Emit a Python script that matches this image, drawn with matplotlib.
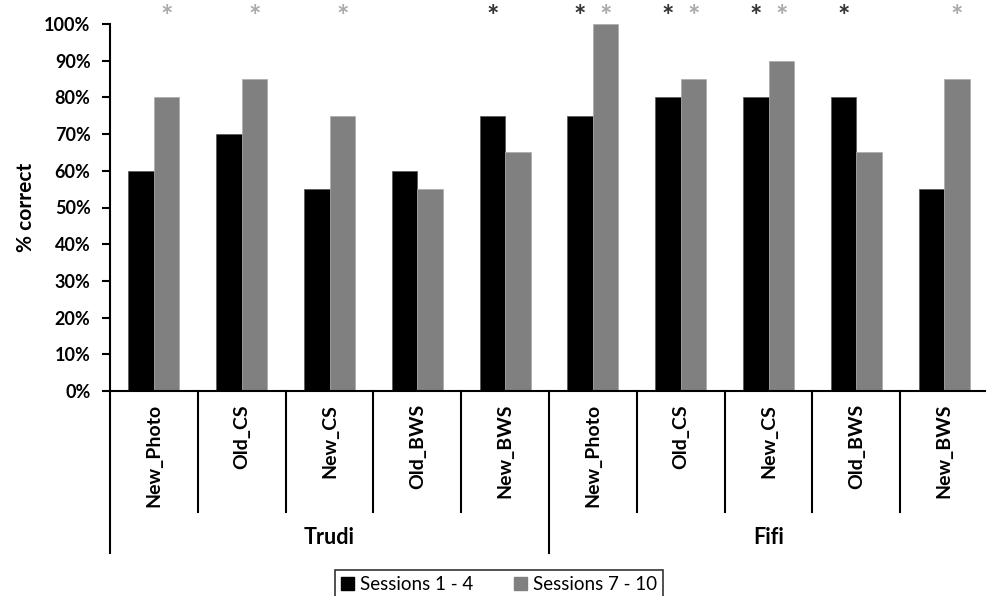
import matplotlib
matplotlib.use("Agg")
import matplotlib.pyplot as plt
from matplotlib.patches import Patch
from matplotlib.ticker import PercentFormatter
import numpy as np

plt.rcParams['font.family'] = ['Lato', 'DejaVu Sans']

subjects = ["Trudi", "Fifi"]
categories = ["New_Photo", "Old_CS", "New_CS", "Old_BWS", "New_BWS"]
sessions_1_4 = [0.60, 0.70, 0.55, 0.60, 0.75, 0.75, 0.80, 0.80, 0.80, 0.55]
sessions_7_10 = [0.80, 0.85, 0.75, 0.55, 0.65, 1.00, 0.85, 0.90, 0.65, 0.85]
sig_1_4 = [False, False, False, False, True, True, True, True, True, False]
sig_7_10 = [True, True, True, False, False, True, True, True, False, True]
series_labels = ["Sessions 1 - 4", "Sessions 7 - 10"]
yticks = [0, 0.1, 0.2, 0.3, 0.4, 0.5, 0.6, 0.7, 0.8, 0.9, 1.0]

W, H = 987, 596
fig = plt.figure(figsize=(W / 100, H / 100), dpi=100)
ax_l, ax_r, ax_t, ax_b = 110, 988, 24, 391
ax = fig.add_axes([ax_l / W, 1 - ax_b / H, (ax_r - ax_l) / W, (ax_b - ax_t) / H])

n = len(sessions_1_4)
x = np.arange(n)
bw = 0.29
c1, c2 = "#000000", "#808080"
ax.bar(x - bw / 2, sessions_1_4, bw, color=c1, edgecolor="#555555", linewidth=0.5)
ax.bar(x + bw / 2, sessions_7_10, bw, color=c2, edgecolor="#aaaaaa", linewidth=0.5)

ax.set_xlim(-0.5, n - 0.5)
ax.set_ylim(0, 1.0)
ax.set_yticks(yticks)
ax.yaxis.set_major_formatter(PercentFormatter(1.0, decimals=0))
ax.tick_params(axis='y', direction='out', length=6, width=1.5, labelsize=13, pad=8)
for lbl in ax.get_yticklabels():
    lbl.set_fontweight('bold')
ax.set_xticks([])
ax.spines['top'].set_visible(False)
ax.spines['right'].set_visible(False)
ax.spines['left'].set_linewidth(1.5)
ax.spines['bottom'].set_linewidth(1.5)
ax.set_ylabel("% correct", fontsize=15, fontweight='bold', labelpad=6)

trans = ax.get_xaxis_transform()
ah = ax_b - ax_t
y_cat = -(512 - ax_b) / ah
y_grp = -(553 - ax_b) / ah
y_lbl = -(404 - ax_b) / ah
y_glbl = -(538 - ax_b) / ah
y_star = (ax_b - 17) / ah

ncat = len(categories)
for i in range(n + 1):
    xd = i - 0.5
    is_grp = (i % ncat == 0)
    col = "#bbbbbb" if i == n else "black"
    ax.plot([xd, xd], [0, y_grp if is_grp else y_cat], transform=trans,
            color=col, lw=1.5, clip_on=False)

for i in range(n):
    ax.text(i, y_lbl, categories[i % ncat], transform=trans, rotation=90,
            ha='center', va='top', fontsize=14, fontweight='bold')

for g, name in enumerate(subjects):
    xc = g * ncat + (ncat - 1) / 2
    ax.text(xc, y_glbl, name, transform=trans, ha='center', va='center',
            fontsize=15.5, fontweight='bold')

for i in range(n):
    if sig_1_4[i]:
        ax.text(i - bw / 2, y_star, "*", transform=trans, ha='center', va='center',
                fontsize=21, fontweight='bold', color="#333333")
    if sig_7_10[i]:
        ax.text(i + bw / 2, y_star, "*", transform=trans, ha='center', va='center',
                fontsize=21, fontweight='bold', color="#aaaaaa")

handles = [Patch(facecolor=c1, edgecolor=c1), Patch(facecolor=c2, edgecolor=c2)]
leg = fig.legend(handles, series_labels, loc='upper center',
                 bbox_to_anchor=(499 / W, 1 - 570 / H), ncol=2, frameon=True,
                 fancybox=False, edgecolor='black', fontsize=13.5,
                 handlelength=0.7, handleheight=0.7, handletextpad=0.3,
                 columnspacing=2.2, borderpad=0.3, borderaxespad=0)
leg.get_frame().set_linewidth(1.2)

fig.savefig("out.png", dpi=100)
